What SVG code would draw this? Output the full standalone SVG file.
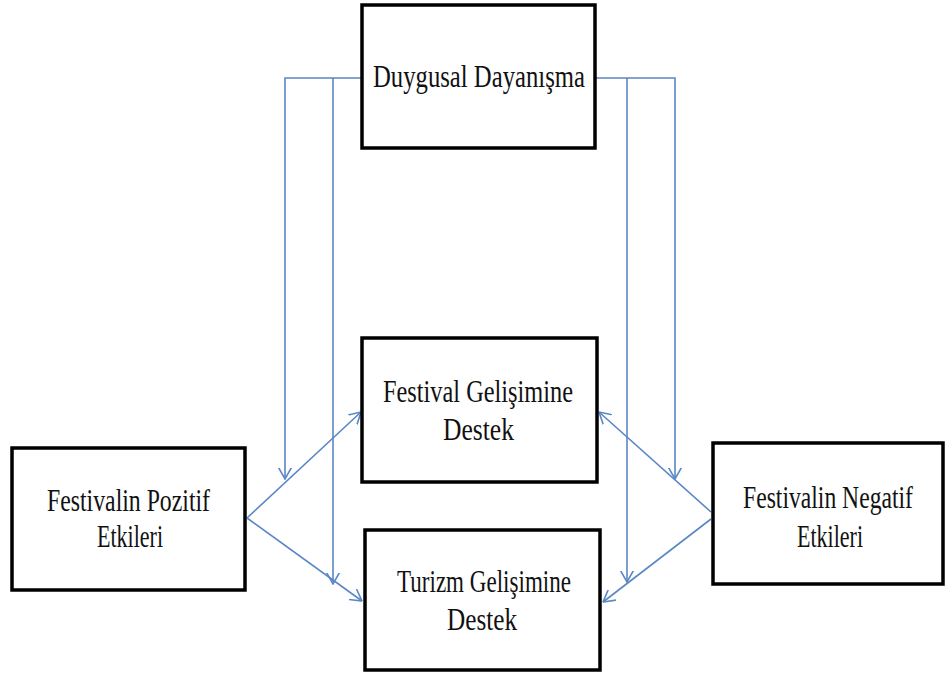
<svg xmlns="http://www.w3.org/2000/svg" width="945" height="675" viewBox="0 0 945 675">
<style>
.box{fill:#fff;stroke:#000;stroke-width:3.5}
.t{font-family:"Liberation Serif","Times New Roman",serif;font-size:24.5px;fill:#111}
.c{fill:none;stroke:#5b87c5;stroke-width:1.6}
</style>
<defs>
<marker id="ah" markerUnits="userSpaceOnUse" viewBox="0 0 12 14" refX="11.5" refY="7" markerWidth="12" markerHeight="14" orient="auto">
<path d="M0,0.5 L11.5,7 L0,13.5" fill="none" stroke="#5b87c5" stroke-width="1.6"/>
</marker>
</defs>
<rect width="945" height="675" fill="#fff"/>
<g id="connectors">
<polyline class="c" points="362,78 285,78 285,479" marker-end="url(#ah)"/>
<polyline class="c" points="333,78 333,584" marker-end="url(#ah)"/>
<polyline class="c" points="595,78 675,78 675,479" marker-end="url(#ah)"/>
<polyline class="c" points="627,78 627,582" marker-end="url(#ah)"/>
<line class="c" x1="247" y1="518" x2="361" y2="412" marker-end="url(#ah)"/>
<line class="c" x1="247" y1="518" x2="362" y2="601" marker-end="url(#ah)"/>
<line class="c" x1="711" y1="512" x2="599" y2="412" marker-end="url(#ah)"/>
<line class="c" x1="711" y1="519" x2="603" y2="602" marker-end="url(#ah)"/>
</g>
<g id="duygusal">
<rect class="box" x="362" y="5" width="233" height="143"/>
<text class="t" transform="translate(373,87) scale(1,1.32)" textLength="212" lengthAdjust="spacingAndGlyphs">Duygusal Dayanışma</text>
</g>
<g id="festival">
<rect class="box" x="362" y="338" width="235" height="144"/>
<text class="t" transform="translate(383,402) scale(1,1.28)" textLength="190" lengthAdjust="spacingAndGlyphs">Festival  Gelişimine</text>
<text class="t" transform="translate(443,440) scale(1,1.28)" textLength="71" lengthAdjust="spacingAndGlyphs">Destek</text>
</g>
<g id="turizm">
<rect class="box" x="365" y="530" width="235" height="140"/>
<text class="t" transform="translate(397,592) scale(1,1.28)" textLength="174" lengthAdjust="spacingAndGlyphs">Turizm Gelişimine</text>
<text class="t" transform="translate(447,630) scale(1,1.28)" textLength="70" lengthAdjust="spacingAndGlyphs">Destek</text>
</g>
<g id="pozitif">
<rect class="box" x="12" y="448" width="233" height="142"/>
<text class="t" transform="translate(47,511) scale(1,1.28)" textLength="163" lengthAdjust="spacingAndGlyphs">Festivalin Pozitif</text>
<text class="t" transform="translate(97,547) scale(1,1.28)" textLength="66" lengthAdjust="spacingAndGlyphs">Etkileri</text>
</g>
<g id="negatif">
<rect class="box" x="713" y="443" width="230" height="141"/>
<text class="t" transform="translate(743,508) scale(1,1.28)" textLength="170" lengthAdjust="spacingAndGlyphs">Festivalin Negatif</text>
<text class="t" transform="translate(797,547) scale(1,1.28)" textLength="66" lengthAdjust="spacingAndGlyphs">Etkileri</text>
</g>
</svg>
